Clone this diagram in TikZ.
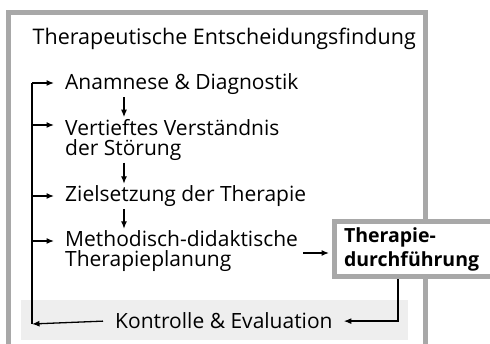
\documentclass[tikz,border=0pt]{standalone}
\usepackage{fontspec}
\setmainfont{Open Sans}
\usetikzlibrary{arrows.meta}
\usetikzlibrary{calc}

\definecolor{framegray}{HTML}{A8A8A8}
\definecolor{bandgray}{HTML}{EEEEEE}
\tikzset{
  item/.style={anchor=base west, align=left, inner sep=2pt,
    font=\fontsize{21}{20}\selectfont},
  arr/.style={-{Latex[length=7.5pt,width=6pt]}, line width=1.3pt},
  frame/.style={draw=framegray, line width=5pt},
}

\begin{document}
\begin{tikzpicture}[x=1pt,y=-1pt]
    \useasboundingbox (0,0) rectangle (490,344);
    \clip (0,0) rectangle (490,344);
    % background band and outer frame
    \fill[bandgray] (21,300) rectangle (408,340);
    \draw[frame] (8.5,12.5) rectangle (425.5,400);

    \node[item, font=\fontsize{21.5}{20}\selectfont] (title) at (30.5,44.5)
        {Therapeutische Entscheidungsfindung};

    \node[item] (ana) at (63,90) {Anamnese \& Diagnostik};
    \node[item] (vert) at (63,155.5) {Vertieftes Verständnis\\der Störung};
    \node[item] (ziel) at (63,202) {Zielsetzung der Therapie};
    \node[item] (meth) at (63,267) {Methodisch-didaktische\\Therapieplanung};
    \node[item] (kon) at (113,329) {Kontrolle \& Evaluation};

    \node[frame, fill=white, anchor=north west, minimum height=55pt,
          text width=160pt, inner xsep=10pt, align=left,
          font=\fontsize{19.5}{24}\bfseries\selectfont]
          (thd) at (331.5,219.5) {Therapie-\\durchführung};

    % downward flow
    \coordinate (vx) at (124,0);
    \draw[arr] (ana.south -| vx) -- (vert.north -| vx);
    \draw[arr] (vert.south -| vx) -- (ziel.north -| vx);
    \draw[arr] (ziel.south -| vx) -- (meth.north -| vx);

    % to therapy and back
    \draw[arr] ([xshift=3pt]meth.east |- 0,253) -- ([xshift=-2.5pt]thd.west |- 0,253);
    \draw[arr] (thd.south -| 398,0) |- ([xshift=9pt]kon.east);

    % feedback loop
    \coordinate (lt) at (32,83);
    \coordinate (lb) at (32,324);
    \draw[arr] ([xshift=-10pt]kon.west) -- (lb);
    \draw[line width=1.3pt] (lb) -- (lt);
    \draw[arr] (lt) -- ([xshift=-9pt]ana.west |- lt);
    \draw[arr] (lt |- 0,125) -- ([xshift=-9pt]vert.west |- 0,125);
    \draw[arr] (lt |- 0,196) -- ([xshift=-9pt]ziel.west |- 0,196);
    \draw[arr] (lt |- 0,241) -- ([xshift=-9pt]meth.west |- 0,241);
\end{tikzpicture}
\end{document}
